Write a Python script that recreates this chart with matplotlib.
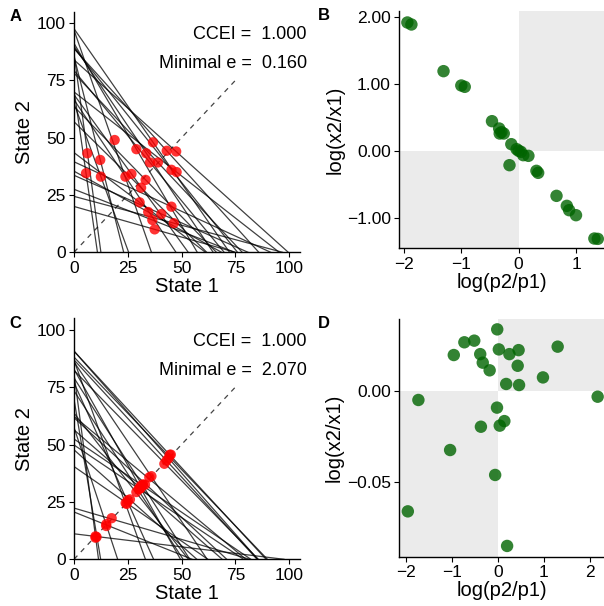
import matplotlib
matplotlib.use('Agg')
from matplotlib import pyplot as plt
import numpy as np

plt.rcParams['font.family'] = ['Liberation Sans', 'DejaVu Sans']

# panel A: budget lines (x-intercept, y-intercept) and chosen bundles
a_line_x = [12.5, 10.9, 23.1, 25.4, 36.0, 57.3, 47.4, 53.1, 64.7, 72.3, 69.8, 85.9, 78.2,
            99.6, 61.7, 66.2, 76.0, 95.4, 61.1, 68.6, 91.4, 80.9, 74.7, 74.9, 96.9]
a_line_y = [86.7, 70.8, 85.5, 65.0, 97.0, 91.2, 66.6, 68.8, 90.0, 97.6, 79.3, 88.9, 78.2,
            84.0, 57.0, 63.6, 89.2, 70.0, 43.5, 35.4, 39.5, 33.6, 27.5, 20.0, 24.4]
a_x1 = [6.2, 5.6, 12.2, 12.5, 18.9, 29.0, 23.9, 26.7, 33.6, 36.7, 35.3, 43.1, 39.0,
        47.5, 31.2, 33.3, 45.3, 47.7, 30.5, 34.5, 45.3, 40.6, 36.4, 37.5, 46.4]
a_x2 = [43.2, 34.5, 40.3, 33.0, 49.0, 45.0, 33.0, 34.2, 43.2, 48.0, 39.2, 44.3, 39.2,
        44.0, 28.2, 31.6, 36.0, 35.0, 21.8, 17.6, 19.9, 16.7, 14.1, 10.0, 12.7]

# panel B: log price ratio vs log quantity ratio
b_logp = [-1.94, -1.87, -1.31, -0.94, -1.00, -0.465, -0.34, -0.26, -0.33, -0.30, -0.128, -0.035,
          0.00, 0.17, 0.08, 0.04, -0.16, 0.31, 0.34, 0.66, 0.84, 0.88, 1.00, 1.32, 1.38]
b_logx = [1.925, 1.895, 1.195, 0.96, 0.98, 0.445, 0.335, 0.26, 0.26, 0.28, 0.10, 0.025,
          0.00, -0.075, -0.065, -0.015, -0.215, -0.30, -0.33, -0.675, -0.825, -0.89, -0.965,
          -1.315, -1.32]

# panel C
c_line_x = [11.4, 12.4, 20.3, 33.2, 37.0, 49.5, 53.8, 50.7, 61.9, 53.2, 85.4, 85.1, 89.3,
            89.9, 85.7, 71.0, 57.1, 68.9, 79.9, 62.2, 82.2, 78.8, 54.9, 81.7, 97.6]
c_line_y = [81.0, 69.8, 57.5, 86.7, 76.9, 82.8, 79.0, 73.4, 86.0, 63.7, 90.7, 86.9, 90.7,
            88.1, 82.3, 61.7, 47.7, 56.4, 62.3, 40.4, 52.4, 49.8, 20.6, 22.3, 11.1]
c_x1 = [10.0, 10.5, 15.0, 24.0, 25.0, 31.0, 32.0, 30.0, 36.0, 29.0, 44.0, 43.0, 45.0,
        44.5, 42.0, 33.0, 26.0, 31.0, 35.0, 24.5, 32.0, 30.5, 15.0, 17.5, 10.0]
c_x2 = [9.4, 9.7, 14.5, 24.5, 25.7, 31.9, 32.6, 30.6, 36.2, 29.3, 44.0, 43.0, 45.6,
        45.5, 41.6, 32.5, 26.1, 31.0, 35.7, 24.1, 32.4, 30.7, 15.3, 17.9, 10.0]

# panel D
d_logp = [-1.96, -1.73, -1.04, -0.96, -0.73, -0.515, -0.385, -0.37, -0.33, -0.18, -0.06, -0.02,
          -0.015, 0.02, 0.04, 0.14, 0.18, 0.20, 0.25, 0.43, 0.45, 0.46, 0.98, 1.30, 2.17]
d_logx = [-0.0663, -0.0051, -0.0326, 0.0196, 0.0266, 0.0275, 0.0201, -0.0198, 0.0154, 0.0112,
          -0.0463, -0.0093, 0.0337, 0.0227, -0.0192, -0.0167, 0.0037, -0.0853, 0.0201, 0.0137,
          0.0223, 0.0031, 0.0073, 0.0242, -0.0033]

fig = plt.figure(figsize=(6.04, 6.06), dpi=100)

def style(ax):
    for s in ['top', 'right']:
        ax.spines[s].set_visible(False)
    for s in ['left', 'bottom']:
        ax.spines[s].set_linewidth(1.0)
    ax.tick_params(direction='out', length=3.5, width=0.8, labelsize=12.5, colors='black', pad=2.5)

def budget_panel(rect, lx, ly, x1, x2, emin, letter):
    ax = fig.add_axes(rect)
    style(ax)
    for X, Y in zip(lx, ly):
        ax.plot([0, X], [Y, 0], color='black', lw=0.9, alpha=0.75, zorder=2)
    ax.plot([0, 75], [0, 75], color='#444444', lw=0.9, ls=(0, (4, 4)), zorder=1)
    ax.scatter(x1, x2, s=55, color='red', alpha=0.8, edgecolors='none', zorder=3)
    ax.set_xlim(0, 105)
    ax.set_ylim(0, 105)
    ax.set_xticks([0, 25, 50, 75, 100])
    ax.set_yticks([0, 25, 50, 75, 100])
    ax.set_xlabel('State 1', fontsize=14.5, labelpad=1)
    ax.set_ylabel('State 2', fontsize=14.5, labelpad=2)
    ax.text(1.03, 0.905, 'CCEI =  1.000', transform=ax.transAxes, ha='right', va='center', fontsize=13)
    ax.text(1.03, 0.785, 'Minimal e =  ' + emin, transform=ax.transAxes, ha='right', va='center', fontsize=13)
    fig.text(0.025, rect[1] + rect[3] - 0.008, letter, fontsize=12, fontweight='bold', ha='center', va='center')
    return ax

def ratio_panel(rect, px, qx, xlim, ylim, xt, yt, ytl, letter):
    ax = fig.add_axes(rect)
    style(ax)
    ax.add_patch(plt.Rectangle((xlim[0], ylim[0]), -xlim[0], -ylim[0], color='#EBEBEB', lw=0, zorder=0))
    ax.add_patch(plt.Rectangle((0, 0), xlim[1], ylim[1], color='#EBEBEB', lw=0, zorder=0))
    ax.scatter(px, qx, s=80, color='#006400', alpha=0.8, edgecolors='none', zorder=3)
    ax.set_xlim(*xlim)
    ax.set_ylim(*ylim)
    ax.set_xticks(xt)
    ax.set_yticks(yt)
    ax.set_yticklabels(ytl)
    ax.set_xlabel('log(p2/p1)', fontsize=14.5, labelpad=1)
    ax.set_ylabel('log(x2/x1)', fontsize=14.5, labelpad=2)
    fig.text(0.5355, rect[1] + rect[3] - 0.008, letter, fontsize=12, fontweight='bold', ha='center', va='center')
    return ax

budget_panel([0.1225, 0.5837, 0.374, 0.397], a_line_x, a_line_y, a_x1, a_x2, '0.160', 'A')
budget_panel([0.1225, 0.0771, 0.374, 0.3977], c_line_x, c_line_y, c_x1, c_x2, '2.070', 'C')
ratio_panel([0.661, 0.590, 0.339, 0.3916], b_logp, b_logx, (-2.082, 1.488), (-1.464, 2.095),
            [-2, -1, 0, 1], [-1, 0, 1, 2], ['\u22121.00', '0.00', '1.00', '2.00'], 'B')
ratio_panel([0.6606, 0.0814, 0.3394, 0.3922], d_logp, d_logx, (-2.152, 2.308), (-0.0912, 0.0394),
            [-2, -1, 0, 1, 2], [-0.05, 0.0], ['\u22120.05', '0.00'], 'D')

fig.savefig('out.png', dpi=100)
